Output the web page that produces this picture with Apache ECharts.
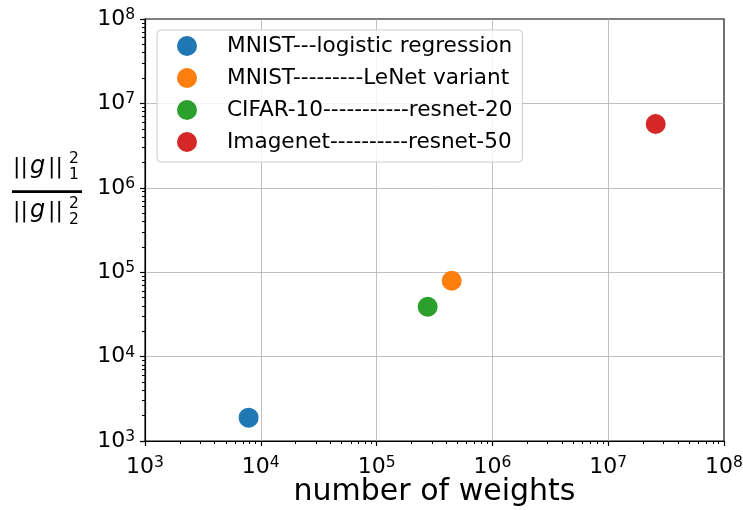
<!DOCTYPE html>
<html><head><meta charset="utf-8">
<script src="https://cdn.jsdelivr.net/npm/echarts@6/dist/echarts.min.js"></script>
<style>html,body{margin:0;padding:0;background:#fff}#c{width:743px;height:510px}</style>
</head><body><div id="c"></div>
<script>
// ---- data ----
const seriesNames = ['MNIST---logistic regression', 'MNIST---------LeNet variant', 'CIFAR-10-----------resnet-20', 'Imagenet----------resnet-50'];
const weightCounts = [7850, 445000, 276000, 25700000];
const gradRatios = [1890, 79300, 39000, 5700000];
const colors = ['#1f77b4', '#ff7f0e', '#2ca02c', '#d62728'];
const axisMin = 1e3;
const axisMax = 1e8;
const xAxisTitle = 'number of weights';

const FONT = 'DejaVu Sans';
const labelRich = {
  b: { fontSize: 22, fontFamily: FONT, color: '#000', lineHeight: 24 },
  s: { fontSize: 15.5, fontFamily: FONT, color: '#000', verticalAlign: 'top', lineHeight: 16 }
};
const powFmt = v => '{b|10}{s|' + Math.round(Math.log10(v)) + '}';
const majorTick = { show: true, length: 5, lineStyle: { color: '#000', width: 1.1 } };
const gridLine = { show: true, showMinLine: false, showMaxLine: false, lineStyle: { color: '#b0b0b0', width: 0.8 } };
const normRich = {
  b: { fontSize: 22, fontFamily: FONT, color: '#000' },
  g: { fontSize: 24, fontFamily: FONT, fontStyle: 'italic', color: '#000', padding: [0, 3, 0, 2] }
};
// helper log axis that only draws the minor ticks (2..9 within each decade)
const minorAxis = (pos) => ({
  type: 'log', logBase: 10, min: axisMin, max: axisMax, position: pos, gridIndex: 0,
  axisLine: { show: true, lineStyle: { color: '#000', width: 1.1 } },
  axisLabel: { show: false },
  splitLine: { show: false },
  axisTick: { show: true, length: 5, lineStyle: { color: '#000', width: 1.1 } },
  minorTick: { show: true, splitNumber: 9, length: 3, lineStyle: { color: '#000', width: 1 } }
});

const chart = echarts.init(document.getElementById('c'), null, { renderer: 'canvas' });
chart.setOption({
  animation: false,
  backgroundColor: '#fff',
  grid: { left: 145, right: 19, top: 19, bottom: 69, containLabel: false, outerBoundsMode: 'none',
    show: true, borderColor: '#000', borderWidth: 1.1, backgroundColor: 'transparent' },
  xAxis: [
    {
      type: 'log', logBase: 10, min: axisMin, max: axisMax,
      axisLine: { lineStyle: { color: '#000', width: 1.1 } },
      axisTick: majorTick,
      axisLabel: { formatter: powFmt, rich: labelRich, margin: 14, showMinLabel: true, showMaxLabel: true, hideOverlap: false },
      splitLine: gridLine,
      name: xAxisTitle, nameLocation: 'middle', nameGap: 36, nameMoveOverlap: false,
      nameTextStyle: { fontSize: 30, fontFamily: FONT, color: '#000' }
    },
    minorAxis('bottom')
  ],
  yAxis: [
    {
      type: 'log', logBase: 10, min: axisMin, max: axisMax,
      axisLine: { lineStyle: { color: '#000', width: 1.1 } },
      axisTick: majorTick,
      axisLabel: { formatter: powFmt, rich: labelRich, margin: 10, showMinLabel: true, showMaxLabel: true, hideOverlap: false },
      splitLine: gridLine
    },
    minorAxis('left')
  ],
  legend: {
    orient: 'vertical', left: 157, top: 30, icon: 'circle',
    itemWidth: 40, itemHeight: 20, itemGap: 10,
    padding: [5, 10, 9, 20],
    borderColor: '#cccccc', borderWidth: 1, borderRadius: 4,
    backgroundColor: 'rgba(255,255,255,0.8)',
    selectedMode: false,
    textStyle: { fontSize: 21.6, fontFamily: FONT, color: '#000', lineHeight: 22, padding: [0, 0, 0, 15] },
    data: seriesNames
  },
  series: seriesNames.map((name, i) => ({
    name, type: 'scatter', xAxisIndex: 0, yAxisIndex: 0,
    symbol: 'circle', symbolSize: 20,
    itemStyle: { color: colors[i], opacity: 1 },
    data: [[weightCounts[i], gradRatios[i]]]
  })),
  graphic: [
    { type: 'text', x: 38, y: 167, style: { text: '{b|||}{g|g}{b|||}', align: 'center', verticalAlign: 'middle', rich: normRich } },
    { type: 'text', x: 74, y: 159, style: { text: '2', fontSize: 15.5, fontFamily: FONT, fill: '#000', align: 'center', verticalAlign: 'middle' } },
    { type: 'text', x: 74, y: 175, style: { text: '1', fontSize: 15.5, fontFamily: FONT, fill: '#000', align: 'center', verticalAlign: 'middle' } },
    { type: 'rect', shape: { x: 12, y: 190.3, width: 70, height: 2.6 }, style: { fill: '#000' } },
    { type: 'text', x: 38, y: 211, style: { text: '{b|||}{g|g}{b|||}', align: 'center', verticalAlign: 'middle', rich: normRich } },
    { type: 'text', x: 74, y: 204, style: { text: '2', fontSize: 15.5, fontFamily: FONT, fill: '#000', align: 'center', verticalAlign: 'middle' } },
    { type: 'text', x: 74, y: 220, style: { text: '2', fontSize: 15.5, fontFamily: FONT, fill: '#000', align: 'center', verticalAlign: 'middle' } }
  ]
});
</script>
</body></html>
